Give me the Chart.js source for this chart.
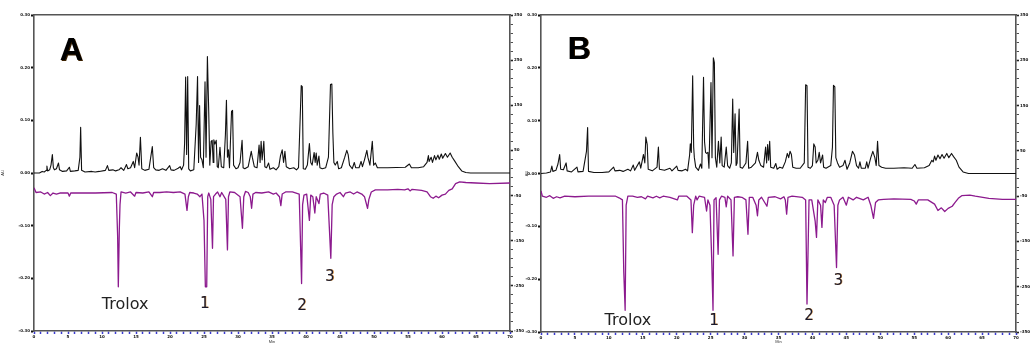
<!DOCTYPE html>
<html>
<head>
<meta charset="utf-8">
<script src="https://cdn.jsdelivr.net/npm/chart.js@4.4.1/dist/chart.umd.min.js"></script>
<style>
  body { margin: 0; background: #fff; }
  #wrap { position: relative; width: 1030px; height: 344px; overflow: hidden; }
  canvas { position: absolute; top: 0; }
  #cA { left: 0; }
  #cB { left: 524px; }
</style>
</head>
<body>
<div id="wrap">
  <canvas id="cA" width="524" height="344"></canvas>
  <canvas id="cB" width="506" height="344"></canvas>
</div>
<script>
// retention time (min) / response pairs
let blackA = [
  [0,0],[0.8,0],[1.2,0.03],[1.5,0.02],[1.8,0.05],[1.9,0.13],[2.0,0.04],[2.3,0.06],[2.5,0.15],[2.7,0.35],[2.85,0.1],[3.0,0.06],
  [3.3,0.08],[3.6,0.19],[3.75,0.06],[4.2,0.03],[4.8,0.04],[5.2,0.11],[5.35,0.03],[6.0,0.04],[6.5,0.05],[6.75,0.3],[6.86,0.87],
  [7.0,0.05],[7.5,0.02],[8.5,0.03],[9.0,0.02],[9.6,0.03],[10.5,0.05],[10.8,0.14],[11.0,0.05],[11.6,0.06],[12.0,0.04],[12.5,0.06],
  [12.8,0.1],[13.2,0.05],[13.6,0.16],[13.8,0.08],[14.2,0.1],[14.6,0.22],[14.8,0.1],[15.1,0.38],[15.3,0.3],[15.45,0.15],[15.65,0.68],
  [15.85,0.08],[16.3,0.05],[16.9,0.07],[17.4,0.5],[17.6,0.1],[17.9,0.06],[18.4,0.05],[18.9,0.08],[19.4,0.05],[19.95,0.14],[20.15,0.06],
  [20.6,0.05],[21.2,0.09],[21.5,0.12],[21.7,0.06],[22.0,0.15],[22.15,0.57],[22.3,1.82],[22.45,0.35],[22.6,1.83],[22.75,0.08],[23.0,0.04],
  [23.5,0.06],[23.85,0.92],[24.05,1.83],[24.2,0.2],[24.35,1.28],[24.5,0.3],[24.7,0.25],[24.9,0.1],[25.15,1.73],[25.3,0.3],[25.5,2.21],
  [25.7,1.14],[25.85,0.15],[26.05,0.6],[26.2,0.62],[26.35,0.2],[26.45,0.63],[26.6,0.55],[26.8,0.62],[26.95,0.12],[27.1,0.1],[27.35,0.49],
  [27.55,0.12],[27.9,0.1],[28.15,0.73],[28.3,1.38],[28.45,0.3],[28.6,0.44],[28.75,0.1],[29.05,1.17],[29.2,1.19],[29.35,0.15],[29.7,0.08],
  [30.0,0.1],[30.3,0.2],[30.6,0.62],[30.75,0.1],[31.0,0.08],[31.5,0.12],[31.95,0.41],[32.1,0.3],[32.4,0.12],[32.8,0.1],[33.1,0.53],
  [33.25,0.2],[33.4,0.6],[33.55,0.25],[33.8,0.6],[33.95,0.12],[34.2,0.1],[34.5,0.19],[34.7,0.07],[35.2,0.1],[35.6,0.06],[36.0,0.12],
  [36.25,0.33],[36.5,0.44],[36.7,0.2],[36.9,0.41],[37.1,0.12],[37.6,0.08],[38.2,0.1],[38.6,0.06],[38.9,0.1],[39.3,1.66],[39.45,1.64],
  [39.6,0.08],[39.9,0.07],[40.2,0.15],[40.5,0.56],[40.7,0.2],[40.9,0.15],[41.2,0.39],[41.35,0.2],[41.5,0.38],[41.65,0.15],[41.9,0.32],
  [42.05,0.1],[42.4,0.08],[42.9,0.1],[43.3,0.3],[43.6,1.68],[43.8,1.69],[43.95,0.76],[44.1,0.2],[44.3,0.15],[44.6,0.22],[44.8,0.08],
  [45.2,0.1],[45.7,0.3],[46.0,0.43],[46.2,0.35],[46.4,0.15],[46.8,0.08],[47.1,0.2],[47.3,0.1],[47.8,0.1],[48.1,0.22],[48.3,0.12],
  [48.6,0.25],[48.95,0.43],[49.1,0.3],[49.4,0.15],[49.75,0.6],[49.95,0.15],[50.2,0.19],[50.5,0.1],[51.0,0.1],[52.0,0.1],[54.6,0.11],
  [55.2,0.17],[55.5,0.1],[56.5,0.1],[57.3,0.12],[57.8,0.2],[58.0,0.33],[58.1,0.22],[58.4,0.3],[58.6,0.2],[58.9,0.33],[59.1,0.25],
  [59.4,0.34],[59.6,0.26],[59.9,0.36],[60.1,0.28],[60.5,0.37],[60.8,0.3],[61.2,0.38],[61.5,0.3],[61.9,0.22],[62.4,0.12],[62.9,0.04],
  [63.5,0.01],[64.2,0],[70,0]
];
let purpleA = [
  [0,-0.28],[0.3,-0.37],[1.0,-0.36],[1.5,-0.4],[2.0,-0.37],[2.4,-0.43],[2.8,-0.38],[3.3,-0.4],[3.8,-0.38],[5.0,-0.38],[5.2,-0.44],
  [5.4,-0.38],[7,-0.38],[9,-0.38],[11.5,-0.37],[12.1,-0.4],[12.3,-1.2],[12.4,-2.16],[12.55,-1.05],[12.65,-0.6],[12.8,-0.36],[13.5,-0.38],
  [14.2,-0.36],[14.8,-0.44],[15.0,-0.37],[16.0,-0.38],[16.9,-0.36],[17.4,-0.45],[17.6,-0.37],[18.5,-0.37],[19.5,-0.36],[20.5,-0.37],
  [21.5,-0.36],[22.2,-0.4],[22.5,-0.71],[22.7,-0.45],[22.9,-0.37],[23.5,-0.38],[24.0,-0.4],[24.4,-0.45],[24.7,-0.4],[25.0,-0.9],
  [25.2,-2.16],[25.4,-2.16],[25.55,-0.45],[25.7,-0.38],[26.0,-0.5],[26.25,-1.43],[26.4,-0.45],[26.7,-0.4],[27.0,-0.36],[27.35,-0.45],
  [27.6,-0.37],[28.2,-0.5],[28.45,-1.46],[28.6,-0.45],[28.8,-0.36],[29.5,-0.37],[30.3,-0.45],[30.65,-1.05],[30.85,-0.45],[31.1,-0.35],
  [31.5,-0.37],[31.8,-0.45],[32.0,-0.67],[32.2,-0.4],[32.6,-0.37],[33.5,-0.38],[34.5,-0.36],[35.2,-0.4],[35.6,-0.38],[36.1,-0.45],
  [36.3,-0.62],[36.5,-0.4],[37.0,-0.36],[38.0,-0.36],[39.0,-0.4],[39.35,-2.1],[39.5,-0.6],[39.7,-0.42],[40.1,-0.4],[40.5,-0.9],
  [40.7,-0.42],[41.0,-0.45],[41.3,-0.76],[41.5,-0.45],[41.9,-0.58],[42.1,-0.4],[42.6,-0.38],[43.2,-0.42],[43.65,-1.62],[43.85,-0.6],
  [44.1,-0.45],[44.5,-0.4],[45.0,-0.37],[45.5,-0.45],[45.8,-0.38],[46.5,-0.36],[47.0,-0.4],[47.5,-0.36],[48.2,-0.4],[48.6,-0.45],
  [49.05,-0.67],[49.25,-0.5],[49.6,-0.36],[50.2,-0.32],[52,-0.32],[53.5,-0.31],[54.5,-0.32],[55.0,-0.3],[55.3,-0.34],[55.6,-0.31],
  [57.0,-0.33],[57.8,-0.36],[58.3,-0.45],[58.7,-0.48],[59.1,-0.44],[59.5,-0.47],[60.0,-0.42],[60.5,-0.4],[61.0,-0.33],[61.5,-0.3],
  [62.0,-0.2],[62.6,-0.17],[63.5,-0.18],[65,-0.19],[67,-0.2],[70,-0.19]
];
let blackB = [
  [0,0],[0.8,0.01],[1.4,0.03],[1.6,0.14],[1.75,0.04],[2.2,0.06],[2.5,0.18],[2.75,0.36],[2.9,0.08],[3.3,0.07],[3.7,0.2],[3.85,0.05],
  [4.5,0.03],[5.3,0.12],[5.45,0.03],[6.2,0.04],[6.7,0.42],[6.87,0.87],[7.0,0.04],[7.8,0.02],[9.0,0.02],[10.0,0.03],[10.7,0.12],
  [10.9,0.05],[11.6,0.06],[12.1,0.04],[12.8,0.08],[13.2,0.05],[13.6,0.16],[13.8,0.06],[14.5,0.22],[14.7,0.1],[15.1,0.36],[15.3,0.2],
  [15.45,0.69],[15.65,0.55],[15.8,0.08],[16.4,0.05],[17.1,0.12],[17.3,0.5],[17.45,0.08],[18.2,0.06],[19.0,0.1],[19.3,0.05],[20.0,0.14],
  [20.2,0.06],[20.8,0.05],[21.3,0.08],[21.6,0.05],[21.9,0.35],[22.0,0.56],[22.15,0.4],[22.35,1.85],[22.5,0.5],[22.6,0.3],[22.8,0.12],
  [23.2,0.06],[23.5,0.18],[23.7,0.1],[23.95,1.82],[24.1,0.6],[24.25,0.4],[24.4,0.38],[24.6,0.4],[24.75,0.1],[25.05,1.72],[25.2,0.3],
  [25.4,2.19],[25.55,2.1],[25.7,0.3],[25.9,0.12],[26.15,0.61],[26.35,0.2],[26.55,0.69],[26.7,0.15],[27.0,0.12],[27.3,0.5],[27.5,0.15],
  [27.8,0.1],[28.05,0.2],[28.25,1.41],[28.4,0.4],[28.6,1.13],[28.75,0.15],[28.9,0.2],[29.2,1.22],[29.35,0.12],[29.7,0.1],[30.2,0.2],
  [30.45,0.61],[30.6,0.1],[31.0,0.12],[31.6,0.2],[31.9,0.4],[32.1,0.25],[32.4,0.15],[32.8,0.12],[33.1,0.5],[33.25,0.2],[33.4,0.55],
  [33.55,0.25],[33.7,0.61],[33.85,0.12],[34.3,0.1],[34.6,0.19],[34.8,0.08],[35.2,0.12],[35.6,0.1],[36.0,0.22],[36.3,0.38],[36.5,0.3],
  [36.7,0.42],[36.9,0.36],[37.1,0.12],[37.6,0.1],[38.2,0.1],[38.8,0.2],[39.0,1.68],[39.2,1.66],[39.35,0.12],[39.7,0.1],[40.0,0.15],
  [40.2,0.56],[40.4,0.5],[40.55,0.2],[40.8,0.25],[41.0,0.4],[41.2,0.2],[41.5,0.35],[41.65,0.12],[42.0,0.1],[42.7,0.15],[42.95,0.5],
  [43.1,1.67],[43.3,1.64],[43.45,0.3],[43.7,0.2],[44.0,0.12],[44.5,0.15],[44.8,0.25],[45.1,0.08],[45.5,0.2],[45.9,0.42],[46.2,0.35],
  [46.5,0.15],[46.8,0.1],[47.0,0.22],[47.2,0.1],[47.8,0.1],[48.0,0.22],[48.2,0.1],[48.6,0.3],[48.9,0.42],[49.2,0.3],[49.4,0.15],
  [49.6,0.61],[49.8,0.15],[50.2,0.12],[50.8,0.1],[52,0.1],[53.5,0.11],[54.7,0.1],[55.1,0.17],[55.4,0.1],[56.5,0.11],[57.2,0.15],
  [57.6,0.25],[57.8,0.22],[58.0,0.33],[58.2,0.25],[58.5,0.35],[58.8,0.28],[59.1,0.36],[59.4,0.29],[59.8,0.38],[60.1,0.3],[60.5,0.38],
  [60.8,0.32],[61.2,0.25],[61.6,0.12],[62.2,0.03],[63,0],[70,0]
];
let purpleB = [
  [0,-0.33],[0.2,-0.43],[0.8,-0.45],[1.3,-0.42],[1.8,-0.47],[2.3,-0.44],[2.8,-0.46],[3.5,-0.43],[5,-0.44],[7,-0.43],[9,-0.43],
  [11.0,-0.43],[11.5,-0.46],[12.0,-0.5],[12.2,-1.87],[12.4,-2.59],[12.55,-0.6],[12.8,-0.43],[13.5,-0.43],[14.2,-0.45],[14.8,-0.44],
  [15.4,-0.48],[15.7,-0.43],[16.5,-0.46],[17.0,-0.43],[17.5,-0.46],[18,-0.43],[19.0,-0.45],[20.1,-0.5],[20.3,-0.43],[21.5,-0.43],
  [22.1,-0.5],[22.3,-1.12],[22.5,-0.6],[22.8,-0.43],[23.0,-0.5],[23.3,-0.43],[24.1,-0.45],[24.4,-0.71],[24.6,-0.5],[24.9,-0.6],
  [25.15,-1.59],[25.35,-2.59],[25.5,-0.5],[25.8,-0.46],[26.1,-1.53],[26.3,-0.5],[26.6,-0.43],[27.1,-0.45],[27.3,-0.63],[27.5,-0.43],
  [28.0,-0.5],[28.3,-1.56],[28.5,-0.45],[29.0,-0.44],[29.6,-0.45],[30.2,-0.5],[30.5,-1.15],[30.7,-0.45],[31.2,-0.45],[31.7,-0.6],
  [31.9,-0.8],[32.1,-0.5],[32.5,-0.45],[33.3,-0.62],[33.5,-0.45],[34.5,-0.44],[35.3,-0.48],[35.8,-0.44],[36.0,-0.5],[36.2,-0.77],
  [36.4,-0.45],[37,-0.43],[38.5,-0.45],[39.0,-0.5],[39.2,-2.47],[39.35,-1.5],[39.5,-0.5],[39.9,-0.5],[40.4,-0.9],[40.6,-1.21],
  [40.8,-0.5],[41.2,-0.6],[41.4,-1.02],[41.6,-0.5],[41.9,-0.55],[42.2,-0.45],[42.7,-0.45],[43.2,-0.6],[43.55,-1.78],[43.75,-0.6],
  [44.0,-0.5],[44.5,-0.45],[45.0,-0.6],[45.3,-0.45],[46.0,-0.5],[46.5,-0.45],[47.5,-0.5],[48.2,-0.45],[48.6,-0.6],[49.0,-0.85],
  [49.3,-0.55],[49.7,-0.5],[50.5,-0.49],[52,-0.48],[54.5,-0.49],[55.0,-0.52],[55.3,-0.58],[55.6,-0.5],[57.0,-0.5],[58.0,-0.58],
  [58.5,-0.7],[59.0,-0.65],[59.5,-0.72],[60.0,-0.66],[60.6,-0.62],[61.0,-0.55],[61.5,-0.47],[62,-0.42],[63.2,-0.41],[64,-0.43],
  [66,-0.47],[68,-0.49],[70,-0.49]
];

// text on the plots: [text, time, response]
let letterA = ['A', 3.8, 2.31];
let letterB = ['B', 3.9, 2.34];
let peakLabelsA = [['Trolox', 13.4, -2.51], ['1', 25.1, -2.48], ['2', 39.4, -2.53], ['3', 43.5, -1.98]];
let peakLabelsB = [['Trolox', 12.8, -2.79], ['1', 25.5, -2.79], ['2', 39.5, -2.69], ['3', 43.8, -2.03]];

let xTickLabels = ['0','5','10','15','20','25','30','35','40','45','50','55','60','65','70'];
let leftTickLabels = ['-0.30','-0.20','-0.10','0.00','0.10','0.20','0.30'];
let rightTickLabels = ['-350','-250','-150','-50','50','150','250','350'];

function toXY(arr) {
    return arr.map(p => ({x: p[0], y: p[1]}));
}

let textPlugin = {
    id: 'peakText',
    afterDatasetsDraw(chart, args, opts) {
        let ctx = chart.ctx;
        let xs = chart.scales.x, ys = chart.scales.y;
        ctx.save();
        ctx.textBaseline = 'middle';
        ctx.textAlign = 'left';
        ctx.font = 'bold 32px "Liberation Sans", Arial, sans-serif';
        ctx.fillStyle = '#3a2000';
        ctx.fillText(opts.letter[0], xs.getPixelForValue(opts.letter[1]) + 0.8, ys.getPixelForValue(opts.letter[2]) + 0.5);
        ctx.fillStyle = '#000';
        ctx.fillText(opts.letter[0], xs.getPixelForValue(opts.letter[1]), ys.getPixelForValue(opts.letter[2]));
        ctx.textAlign = 'center';
        opts.peaks.forEach(function (p) {
            let px = xs.getPixelForValue(p[1]);
            let py = ys.getPixelForValue(p[2]);
            if (p[0] === 'Trolox') {
                ctx.font = '16px "DejaVu Sans", Verdana, sans-serif';
                ctx.fillStyle = '#222';
            } else {
                ctx.font = '15px "DejaVu Sans", Verdana, sans-serif';
                ctx.fillStyle = '#d49040';
                ctx.fillText(p[0], px + 0.6, py + 0.3);
                ctx.fillStyle = '#1b1b2e';
            }
            ctx.fillText(p[0], px, py);
        });
        ctx.restore();
    }
};

function makePanel(id, black, purple, letter, peaks, box) {
    let tiny = {size: 4, family: 'DejaVu Sans', weight: 'bold'};
    return new Chart(document.getElementById(id), {
        type: 'line',
        data: {
            datasets: [{
                data: toXY(black),
                borderColor: '#111',
                borderWidth: 1.1,
                pointRadius: 0,
                tension: 0,
                borderJoinStyle: 'round'
            }, {
                data: toXY(purple),
                borderColor: '#8c1a8e',
                borderWidth: 1.3,
                pointRadius: 0,
                tension: 0,
                borderJoinStyle: 'round'
            }]
        },
        options: {
            responsive: false,
            animation: false,
            events: [],
            layout: {padding: 0},
            plugins: {
                legend: {display: false},
                tooltip: {enabled: false},
                peakText: {letter: letter, peaks: peaks}
            },
            scales: {
                x: {
                    type: 'linear', position: 'bottom', min: 0, max: 70,
                    afterFit: s => { s.height = box.bottom; },
                    border: {color: '#555', width: 1.6},
                    grid: {drawOnChartArea: false, tickLength: 3, tickColor: '#3b3bd0', tickWidth: 1.5},
                    ticks: {
                        stepSize: 1, autoSkip: false, maxRotation: 0, padding: 1,
                        color: '#111', font: tiny,
                        callback: v => (v % 5 === 0 ? xTickLabels[v / 5] : '')
                    },
                    title: {display: true, text: 'Min', font: {size: 4}, padding: 0, color: '#333'}
                },
                xTop: {
                    type: 'linear', position: 'top', min: 0, max: 70,
                    afterFit: s => { s.height = box.top; },
                    border: {color: '#555', width: 1.6},
                    grid: {drawOnChartArea: false, drawTicks: false},
                    ticks: {display: false}
                },
                y: {
                    type: 'linear', position: 'left', min: -3, max: 3,
                    afterFit: s => { s.width = box.left; },
                    border: {color: '#555', width: 1.6},
                    grid: {drawOnChartArea: false, tickLength: 3, tickColor: '#111', tickWidth: 2},
                    ticks: {
                        stepSize: 1, autoSkip: false, padding: 1, color: '#222', font: tiny,
                        callback: (v, i) => leftTickLabels[i]
                    },
                    title: {display: true, text: 'AU', font: {size: 4}, padding: 0, color: '#333'}
                },
                yR: {
                    type: 'linear', position: 'right', min: -3.5, max: 3.5,
                    afterFit: s => { s.width = box.right; },
                    border: {color: '#555', width: 1.6},
                    grid: {
                        drawOnChartArea: false, tickLength: 3,
                        tickColor: '#222',
                        tickWidth: c => (c.index % 5 === 0 ? 1.6 : 0.8)
                    },
                    ticks: {
                        stepSize: 0.2, autoSkip: false, padding: 1, color: '#111', font: tiny,
                        callback: (v, i) => (i % 5 === 0 ? rightTickLabels[i / 5] : '')
                    }
                }
            }
        },
        plugins: [textPlugin]
    });
}

makePanel('cA', blackA, purpleA, letterA, peakLabelsA, {left: 34, right: 14, top: 15, bottom: 13});
makePanel('cB', blackB, purpleB, letterB, peakLabelsB, {left: 17, right: 14, top: 15, bottom: 12});
</script>
</body>
</html>
